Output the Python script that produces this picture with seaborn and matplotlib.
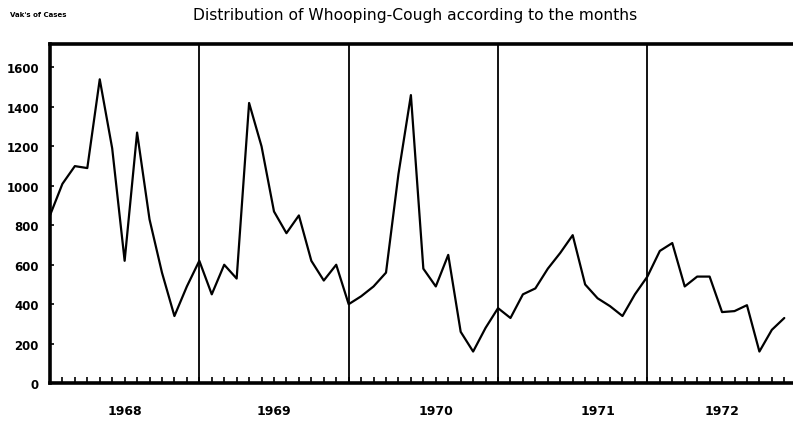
import numpy as np
import pandas as pd
import seaborn as sns
import matplotlib
matplotlib.use("Agg")
import matplotlib.pyplot as plt

# monthly cases, Jan 1968 .. Dec 1972
years = ["1968", "1969", "1970", "1971", "1972"]
cases = [850, 1010, 1100, 1090, 1540, 1190, 620, 1270, 830, 560, 340, 490,
         620, 450, 600, 530, 1420, 1200, 870, 760, 850, 620, 520, 600,
         400, 440, 490, 560, 1060, 1460, 580, 490, 650, 260, 160, 280,
         380, 330, 450, 480, 580, 660, 750, 500, 430, 390, 340, 450,
         540, 670, 710, 490, 540, 540, 360, 365, 395, 160, 270, 330]
year_label_pos = [6, 18, 31, 44, 54]
year_breaks = [12, 24, 36, 48]
y_ticks = [0, 200, 400, 600, 800, 1000, 1200, 1400, 1600]

df = pd.DataFrame({"month": np.arange(len(cases)), "cases": cases})

sns.set_style("white")
plt.rcParams['font.family'] = ['DejaVu Sans']
plt.rcParams['text.color'] = 'black'

fig = plt.figure(figsize=(7.93, 4.35), dpi=100)
ax = fig.add_axes([0.063, 0.117, 0.937, 0.78])

sns.lineplot(data=df, x="month", y="cases", color="black", linewidth=1.6, ax=ax)

for b in year_breaks:
    ax.axvline(b, color="black", linewidth=1.3)

ax.set_xlim(0, 59.7)
ax.set_ylim(0, 1720)

ax.set_yticks(y_ticks)
ax.set_yticklabels([str(v) for v in y_ticks], fontsize=8.5, fontweight="bold")
ax.set_xticks(np.arange(0, 60))
ax.set_xticklabels([])
ax.tick_params(axis="x", bottom=True, direction="in", length=4, width=1.2, color="black")
ax.tick_params(axis="y", left=True, direction="in", length=3, width=1.2, color="black",
               labelcolor="black", pad=8)

for pos, yr in zip(year_label_pos, years):
    ax.text(pos, -0.08, yr, transform=ax.get_xaxis_transform(),
            ha="center", va="center", fontsize=9, fontweight="bold", color="black")

for side in ["left", "bottom", "top"]:
    ax.spines[side].set_linewidth(2.6)
    ax.spines[side].set_color("black")
ax.spines["right"].set_visible(False)

ax.set_xlabel("")
ax.set_ylabel("")

fig.text(0.523, 0.965, "Distribution of Whooping-Cough according to the months",
         ha="center", va="center", fontsize=11.2, color="black")
fig.text(0.013, 0.965, "Vak's of Cases", ha="left", va="center",
         fontsize=5, fontweight="bold", color="black")

fig.savefig("out.png", dpi=100)
